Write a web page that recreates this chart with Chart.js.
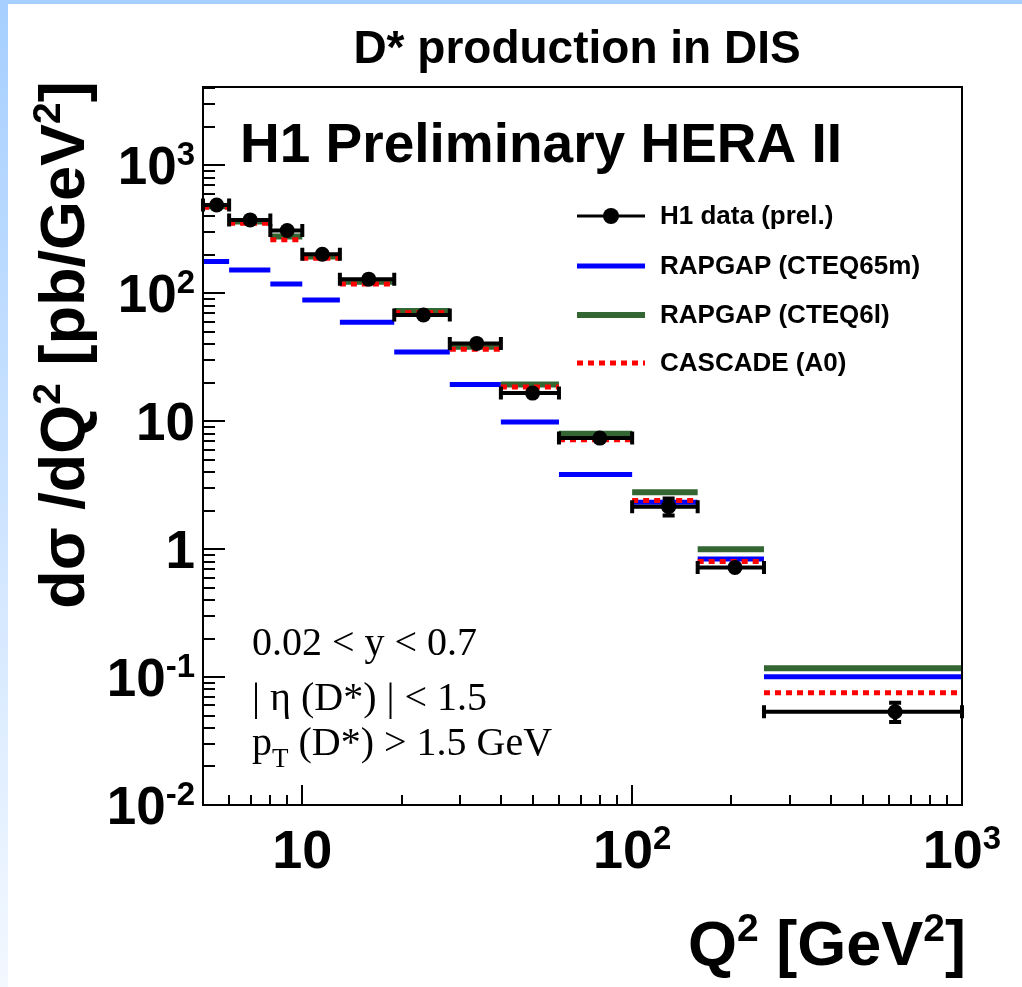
<!DOCTYPE html>
<html>
<head>
<meta charset="utf-8">
<title>D* production in DIS</title>
<script src="https://cdn.jsdelivr.net/npm/chart.js@4.4.1/dist/chart.umd.min.js"></script>
<style>
  html, body { margin: 0; padding: 0; background: #fff; }
  #frame { position: relative; width: 1022px; height: 987px; overflow: hidden; background: #fff; }
  #topbar { position: absolute; left: 0; top: 0; width: 1022px; height: 4px; background: #a6cfff; }
  #sidebar { position: absolute; left: 0; top: 0; width: 8px; height: 987px; background: linear-gradient(#a6cfff, #f3f8ff); }
  #chart { position: absolute; left: 0; top: 0; }
</style>
</head>
<body>
<div id="frame">
  <div id="topbar"></div>
  <div id="sidebar"></div>
  <canvas id="chart" width="1022" height="987"></canvas>
</div>
<script>
// Q^2 bins [GeV^2]
var binLo = [5, 6, 8, 10, 13, 19, 28, 40, 60, 100, 158, 251];
var binHi = [6, 8, 10, 13, 19, 28, 40, 60, 100, 158, 251, 1000];

// H1 measurement, d sigma / dQ^2 [pb/GeV^2]
var dataX  = [5.5, 6.95, 9.0, 11.5, 15.9, 23.3, 33.8, 49.9, 79.8, 129, 205, 627];
var dataY  = [490, 375, 310, 202, 129, 67.6, 40.6, 16.6, 7.38, 2.15, 0.72, 0.0536];
var errUp  = [25, 18, 15, 10, 6, 3.5, 2.0, 0.9, 0.4, 0.34, 0.10, 0.0094];
var errDn  = [25, 18, 15, 10, 6, 3.5, 2.0, 0.9, 0.4, 0.32, 0.062, 0.009];

// model predictions per bin
var rapgapCteq65m = [177, 152, 118, 88.7, 59.3, 34.8, 19.4, 9.87, 3.84, 2.33, 0.838, 0.1007];
var rapgapCteq6l  = [480, 365, 278, 194, 123, 72.6, 38.2, 19.4, 8.0, 2.79, 1.0, 0.117];
var cascadeA0     = [470, 353, 262, 188, 118, 70.5, 36.6, 18.5, 7.18, 2.40, 0.80, 0.0755];

// axis labels: [mantissa, exponent]
var yTickValues = [0.01, 0.1, 1, 10, 100, 1000];
var yTickLabels = [['10', '-2'], ['10', '-1'], ['1', ''], ['10', ''], ['10', '2'], ['10', '3']];
var xTickValues = [10, 100, 1000];
var xTickLabels = [['10', ''], ['10', '2'], ['10', '3']];

var legendLabels = ['H1 data (prel.)', 'RAPGAP (CTEQ65m)', 'RAPGAP (CTEQ6l)', 'CASCADE (A0)'];

var SANS = '"Liberation Sans", Arial, Helvetica, sans-serif';
var SERIF = '"Liberation Serif", "Times New Roman", serif';
var BLUE = '#0000ff', GREEN = '#336633', RED = '#ff0000';

function steps(vals) {
  var pts = [];
  for (var i = 0; i < vals.length; i++) {
    pts.push({x: binLo[i], y: vals[i]}, {x: binHi[i], y: vals[i]}, {x: binHi[i], y: null});
  }
  return pts;
}

var dataPoints = dataX.map(function(x, i) { return {x: x, y: dataY[i]}; });

// text with an optional superscript part
function richText(ctx, parts, x, y, size, align, family, weight) {
  var supSize = Math.round(size * 0.62);
  ctx.font = weight + ' ' + size + 'px ' + family;
  var w0 = ctx.measureText(parts[0]).width;
  ctx.font = weight + ' ' + supSize + 'px ' + family;
  var w1 = parts[1] ? ctx.measureText(parts[1]).width : 0;
  var total = w0 + w1;
  var x0 = align === 'right' ? x - total : align === 'center' ? x - total / 2 : x;
  ctx.textAlign = 'left';
  ctx.textBaseline = 'alphabetic';
  ctx.font = weight + ' ' + size + 'px ' + family;
  ctx.fillText(parts[0], x0, y);
  if (parts[1]) {
    ctx.font = weight + ' ' + supSize + 'px ' + family;
    ctx.fillText(parts[1], x0 + w0, y - size * 0.36);
  }
}

function minorTicks(min, max) {
  var out = [];
  for (var d = Math.pow(10, Math.floor(Math.log10(min))); d < max; d *= 10) {
    for (var k = 2; k <= 9; k++) {
      var v = k * d;
      if (v > min && v < max) out.push(v);
    }
  }
  return out;
}

var errorBars = {
  id: 'errorBars',
  beforeDatasetDraw: function(chart, args) {
    if (args.index !== 0) return;
    var ctx = chart.ctx, xs = chart.scales.x, ys = chart.scales.y;
    ctx.save();
    ctx.strokeStyle = '#000';
    ctx.lineWidth = 4;
    for (var i = 0; i < dataX.length; i++) {
      var py = ys.getPixelForValue(dataY[i]);
      var pl = xs.getPixelForValue(binLo[i]);
      var pr = xs.getPixelForValue(binHi[i]);
      var pc = xs.getPixelForValue(dataX[i]);
      ctx.beginPath();
      ctx.moveTo(pl, py); ctx.lineTo(pr, py);
      ctx.moveTo(pl, py - 6.5); ctx.lineTo(pl, py + 6.5);
      ctx.moveTo(pr, py - 6.5); ctx.lineTo(pr, py + 6.5);
      var pu = ys.getPixelForValue(dataY[i] + errUp[i]);
      var pd = ys.getPixelForValue(dataY[i] - errDn[i]);
      if (py - pu > 7.5) {
        ctx.moveTo(pc, py); ctx.lineTo(pc, pu);
        ctx.moveTo(pc - 6, pu); ctx.lineTo(pc + 6, pu);
      }
      if (pd - py > 7.5) {
        ctx.moveTo(pc, py); ctx.lineTo(pc, pd);
        ctx.moveTo(pc - 6, pd); ctx.lineTo(pc + 6, pd);
      }
      ctx.stroke();
    }
    ctx.restore();
  }
};

var decorations = {
  id: 'decorations',
  afterDraw: function(chart) {
    var ctx = chart.ctx, a = chart.chartArea, xs = chart.scales.x, ys = chart.scales.y;
    ctx.save();

    // frame
    ctx.strokeStyle = '#000';
    ctx.lineWidth = 2;
    ctx.strokeRect(a.left, a.top, a.right - a.left, a.bottom - a.top);

    // y ticks, inside the frame
    ctx.beginPath();
    yTickValues.forEach(function(v) {
      var p = Math.round(ys.getPixelForValue(v));
      ctx.moveTo(a.left, p); ctx.lineTo(a.left + 22, p);
    });
    minorTicks(ys.min, ys.max).forEach(function(v) {
      var p = Math.round(ys.getPixelForValue(v));
      ctx.moveTo(a.left, p); ctx.lineTo(a.left + 12, p);
    });
    // x ticks
    xTickValues.forEach(function(v) {
      var p = Math.round(xs.getPixelForValue(v));
      ctx.moveTo(p, a.bottom); ctx.lineTo(p, a.bottom - 20);
    });
    minorTicks(xs.min, xs.max).forEach(function(v) {
      var p = Math.round(xs.getPixelForValue(v));
      ctx.moveTo(p, a.bottom); ctx.lineTo(p, a.bottom - 10);
    });
    ctx.stroke();

    ctx.fillStyle = '#000';
    // tick labels
    yTickValues.forEach(function(v, i) {
      richText(ctx, yTickLabels[i], 195, ys.getPixelForValue(v) + 19, 53, 'right', SANS, 'bold');
    });
    xTickValues.forEach(function(v, i) {
      richText(ctx, xTickLabels[i], xs.getPixelForValue(v), 868, 54, 'center', SANS, 'bold');
    });

    // titles
    ctx.font = 'bold 46px ' + SANS;
    ctx.textAlign = 'center';
    ctx.textBaseline = 'alphabetic';
    ctx.fillText('D* production in DIS', 577, 63);

    ctx.font = 'bold 55px ' + SANS;
    ctx.textAlign = 'left';
    ctx.fillText('H1 Preliminary HERA II', 240, 162);

    // x axis title, right aligned
    var big = 'bold 63px ' + SANS, small = 'bold 39px ' + SANS;
    var xParts = [['Q', big, 0], ['2', small, -24], [' [GeV', big, 0], ['2', small, -24], [']', big, 0]];
    var wsum = 0;
    xParts.forEach(function(p) { ctx.font = p[1]; wsum += ctx.measureText(p[0]).width; });
    var cx = 966 - wsum;
    xParts.forEach(function(p) {
      ctx.font = p[1];
      ctx.fillText(p[0], cx, 965 + p[2]);
      cx += ctx.measureText(p[0]).width;
    });

    // y axis title, rotated
    ctx.save();
    ctx.translate(84, 345);
    ctx.rotate(-Math.PI / 2);
    big = 'bold 63px ' + SANS; small = 'bold 39px ' + SANS;
    var yParts = [['d\u03c3 /dQ', big, 0], ['2', small, -24], [' [pb/GeV', big, 0], ['2', small, -24], [']', big, 0]];
    wsum = 0;
    yParts.forEach(function(p) { ctx.font = p[1]; wsum += ctx.measureText(p[0]).width; });
    cx = -wsum / 2;
    yParts.forEach(function(p) {
      ctx.font = p[1];
      ctx.fillText(p[0], cx, p[2]);
      cx += ctx.measureText(p[0]).width;
    });
    ctx.restore();

    // cuts
    ctx.font = '40px ' + SERIF;
    ctx.fillText('0.02 < y < 0.7', 252, 655);
    ctx.fillText('| \u03b7 (D*) | < 1.5', 252, 710);
    ctx.fillText('p', 252, 755);
    var pw = ctx.measureText('p').width;
    ctx.font = '27px ' + SERIF;
    ctx.fillText('T', 252 + pw, 767);
    var tw = ctx.measureText('T').width;
    ctx.font = '40px ' + SERIF;
    ctx.fillText(' (D*) > 1.5 GeV', 252 + pw + tw, 755);

    // legend
    var rows = [216, 266, 315, 363];
    ctx.lineWidth = 3;
    ctx.strokeStyle = '#000';
    ctx.beginPath(); ctx.moveTo(577, rows[0]); ctx.lineTo(645, rows[0]); ctx.stroke();
    ctx.beginPath(); ctx.arc(611, rows[0], 8, 0, Math.PI * 2); ctx.fill();
    ctx.lineWidth = 5; ctx.strokeStyle = BLUE;
    ctx.beginPath(); ctx.moveTo(577, rows[1]); ctx.lineTo(645, rows[1]); ctx.stroke();
    ctx.lineWidth = 6; ctx.strokeStyle = GREEN;
    ctx.beginPath(); ctx.moveTo(577, rows[2]); ctx.lineTo(645, rows[2]); ctx.stroke();
    ctx.lineWidth = 5; ctx.strokeStyle = RED; ctx.setLineDash([6, 5]);
    ctx.beginPath(); ctx.moveTo(577, rows[3]); ctx.lineTo(645, rows[3]); ctx.stroke();
    ctx.setLineDash([]);
    ctx.font = 'bold 26px ' + SANS;
    ctx.textBaseline = 'middle';
    legendLabels.forEach(function(t, i) { ctx.fillText(t, 660, rows[i] + 1); });

    ctx.restore();
  }
};

new Chart(document.getElementById('chart'), {
  type: 'line',
  data: {
    datasets: [
      { label: legendLabels[0], data: dataPoints, showLine: false, pointRadius: 7.5,
        pointBackgroundColor: '#000', pointBorderWidth: 0 },
      { label: legendLabels[3], data: steps(cascadeA0), borderColor: RED, borderWidth: 5,
        borderDash: [6, 5], pointRadius: 0 },
      { label: legendLabels[2], data: steps(rapgapCteq6l), borderColor: GREEN, borderWidth: 6,
        pointRadius: 0 },
      { label: legendLabels[1], data: steps(rapgapCteq65m), borderColor: BLUE, borderWidth: 5,
        pointRadius: 0 }
    ]
  },
  options: {
    responsive: false,
    animation: false,
    spanGaps: false,
    layout: { padding: { left: 203, top: 87, right: 60, bottom: 182 } },
    plugins: { legend: { display: false }, tooltip: { enabled: false } },
    scales: {
      x: { type: 'logarithmic', min: 5, max: 1000, display: false },
      y: { type: 'logarithmic', min: 0.01, max: 4100, display: false }
    }
  },
  plugins: [errorBars, decorations]
});
</script>
</body>
</html>
